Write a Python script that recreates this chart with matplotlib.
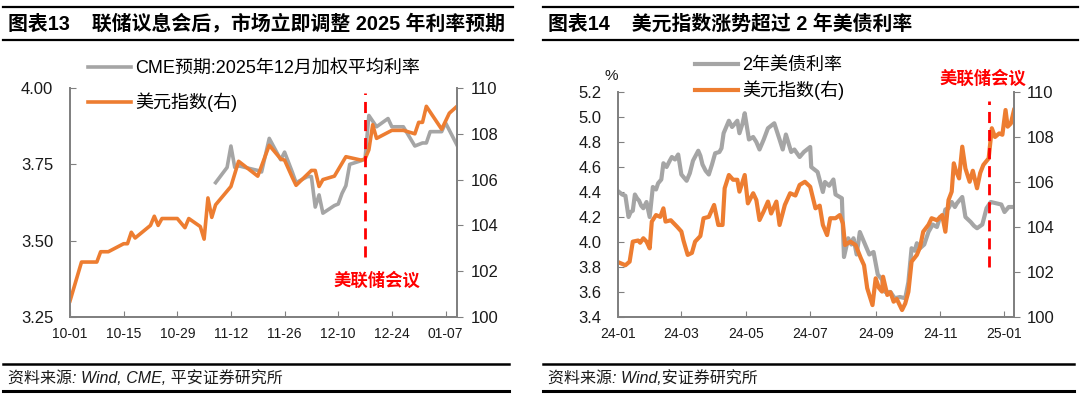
import matplotlib
matplotlib.use("Agg")
import matplotlib.pyplot as plt
import matplotlib.dates as mdates
from matplotlib.lines import Line2D
import pandas as pd

plt.rcParams['font.family'] = ['Liberation Sans', 'Noto Sans CJK SC']
plt.rcParams['axes.unicode_minus'] = False

# ---------- 图表13 数据 ----------
dxy13_dates = [
    "2024-10-01", "2024-10-04", "2024-10-08", "2024-10-09", "2024-10-11", "2024-10-15",
    "2024-10-16", "2024-10-17", "2024-10-18", "2024-10-22", "2024-10-23", "2024-10-24",
    "2024-10-25", "2024-10-29", "2024-10-31", "2024-11-01", "2024-11-04", "2024-11-05",
    "2024-11-06", "2024-11-07", "2024-11-08", "2024-11-11", "2024-11-12", "2024-11-14",
    "2024-11-19", "2024-11-22", "2024-11-25", "2024-11-26", "2024-11-28", "2024-11-29",
    "2024-12-03", "2024-12-04", "2024-12-05", "2024-12-06", "2024-12-09", "2024-12-12",
    "2024-12-16", "2024-12-17", "2024-12-18", "2024-12-19", "2024-12-20", "2024-12-24",
    "2024-12-27", "2024-12-30", "2024-12-31", "2025-01-01", "2025-01-02", "2025-01-06",
    "2025-01-08", "2025-01-10",
]
dxy13_vals = [
    100.7, 102.4, 102.4, 102.85, 102.85, 103.2,
    103.2, 103.7, 103.45, 104.0, 104.4, 104.0,
    104.3, 104.3, 103.9, 104.3, 103.95, 103.4,
    105.2, 104.35, 104.9, 105.5, 105.7, 106.8,
    106.15, 107.5, 106.9, 106.85, 106.1, 105.75,
    106.4, 106.4, 105.7, 106.0, 106.15, 107.0,
    106.85, 106.9, 107.3, 108.4, 107.8, 108.15,
    108.15, 108.0, 108.5, 108.5, 109.2, 108.2,
    108.9, 109.2,
]
cme_dates = [
    "2024-11-08", "2024-11-11", "2024-11-12", "2024-11-13", "2024-11-14", "2024-11-19",
    "2024-11-20", "2024-11-22", "2024-11-25", "2024-11-26", "2024-11-28", "2024-11-29",
    "2024-12-02", "2024-12-03", "2024-12-04", "2024-12-05", "2024-12-06", "2024-12-09",
    "2024-12-10", "2024-12-11", "2024-12-12", "2024-12-13", "2024-12-16", "2024-12-17",
    "2024-12-18", "2024-12-20", "2024-12-23", "2024-12-24", "2024-12-27", "2024-12-30",
    "2024-12-31", "2025-01-01", "2025-01-02", "2025-01-03", "2025-01-06", "2025-01-07",
    "2025-01-10",
]
cme_vals = [
    3.69, 3.74, 3.81, 3.74, 3.745, 3.73,
    3.725, 3.835, 3.765, 3.79, 3.725, 3.69,
    3.71, 3.71, 3.61, 3.65, 3.59, 3.615,
    3.62, 3.655, 3.68, 3.75, 3.762, 3.767,
    3.91, 3.873, 3.90, 3.873, 3.873, 3.81,
    3.815, 3.82, 3.82, 3.857, 3.857, 3.886,
    3.813,
]

# ---------- 图表14 数据 ----------
ust2y_dates = [
    "2024-01-02", "2024-01-05", "2024-01-08", "2024-01-11", "2024-01-13", "2024-01-15",
    "2024-01-17", "2024-01-19", "2024-01-21", "2024-01-23", "2024-01-25", "2024-01-28",
    "2024-01-31", "2024-02-03", "2024-02-06", "2024-02-08", "2024-02-11", "2024-02-13",
    "2024-02-16", "2024-02-19", "2024-02-21", "2024-02-24", "2024-02-27", "2024-03-01",
    "2024-03-06", "2024-03-09", "2024-03-12", "2024-03-17", "2024-03-19", "2024-03-21",
    "2024-03-24", "2024-03-27", "2024-03-30", "2024-04-02", "2024-04-06", "2024-04-08",
    "2024-04-10", "2024-04-15", "2024-04-18", "2024-04-23", "2024-04-25", "2024-04-28",
    "2024-04-30", "2024-05-04", "2024-05-08", "2024-05-11", "2024-05-14", "2024-05-18",
    "2024-05-22", "2024-05-28", "2024-06-02", "2024-06-05", "2024-06-08", "2024-06-13",
    "2024-06-16", "2024-06-21", "2024-06-25", "2024-07-01", "2024-07-02", "2024-07-08",
    "2024-07-13", "2024-07-15", "2024-07-19", "2024-07-23", "2024-07-25", "2024-07-31",
    "2024-08-02", "2024-08-06", "2024-08-09", "2024-08-11", "2024-08-14", "2024-08-17",
    "2024-08-21", "2024-08-26", "2024-08-30", "2024-09-03", "2024-09-07", "2024-09-10",
    "2024-09-15", "2024-09-19", "2024-09-24", "2024-09-29", "2024-10-02", "2024-10-05",
    "2024-10-08", "2024-10-10", "2024-10-13", "2024-10-17", "2024-10-21", "2024-10-25",
    "2024-10-29", "2024-11-01", "2024-11-04", "2024-11-06", "2024-11-09", "2024-11-12",
    "2024-11-15", "2024-11-17", "2024-11-22", "2024-11-25", "2024-11-30", "2024-12-03",
    "2024-12-06", "2024-12-11", "2024-12-15", "2024-12-19", "2024-12-24", "2024-12-29",
    "2025-01-01", "2025-01-05", "2025-01-09",
]
ust2y_vals = [
    4.40, 4.38, 4.37, 4.20, 4.24, 4.25,
    4.38, 4.35, 4.33, 4.29, 4.27, 4.32,
    4.20, 4.44, 4.42, 4.47, 4.50, 4.63,
    4.60, 4.65, 4.68, 4.66, 4.70, 4.54,
    4.49, 4.55, 4.65, 4.73, 4.69, 4.62,
    4.57, 4.54, 4.62, 4.71, 4.72, 4.75,
    4.87, 4.97, 4.92, 4.97, 4.87, 4.95,
    5.03, 4.82, 4.84, 4.80, 4.74, 4.82,
    4.91, 4.95, 4.82, 4.74, 4.86, 4.72,
    4.74, 4.68, 4.72, 4.76, 4.60, 4.56,
    4.40, 4.48, 4.45, 4.50, 4.38, 4.35,
    3.88, 4.03, 3.98, 4.03, 3.90, 4.08,
    4.00, 3.90, 3.92, 3.74, 3.70, 3.60,
    3.60, 3.55, 3.56, 3.55, 3.68, 3.95,
    3.93, 3.99, 3.95, 3.98, 4.08, 4.14,
    4.12, 4.20, 4.18, 4.26, 4.27, 4.32,
    4.28, 4.31, 4.36, 4.20, 4.16, 4.13,
    4.11, 4.14, 4.27, 4.32, 4.31, 4.30,
    4.24, 4.28, 4.28,
]
dxy14_dates = [
    "2024-01-03", "2024-01-08", "2024-01-12", "2024-01-15", "2024-01-20", "2024-01-22",
    "2024-01-25", "2024-01-28", "2024-01-31", "2024-02-02", "2024-02-06", "2024-02-10",
    "2024-02-13", "2024-02-15", "2024-02-20", "2024-02-26", "2024-03-01", "2024-03-03",
    "2024-03-07", "2024-03-11", "2024-03-14", "2024-03-19", "2024-03-22", "2024-03-27",
    "2024-04-01", "2024-04-05", "2024-04-09", "2024-04-11", "2024-04-15", "2024-04-19",
    "2024-04-23", "2024-04-25", "2024-04-30", "2024-05-03", "2024-05-08", "2024-05-11",
    "2024-05-14", "2024-05-18", "2024-05-22", "2024-05-25", "2024-05-30", "2024-06-02",
    "2024-06-07", "2024-06-12", "2024-06-17", "2024-06-21", "2024-06-26", "2024-07-01",
    "2024-07-06", "2024-07-10", "2024-07-13", "2024-07-17", "2024-07-20", "2024-07-25",
    "2024-07-29", "2024-08-01", "2024-08-03", "2024-08-08", "2024-08-13", "2024-08-18",
    "2024-08-21", "2024-08-24", "2024-08-29", "2024-09-01", "2024-09-04", "2024-09-07",
    "2024-09-08", "2024-09-12", "2024-09-15", "2024-09-18", "2024-09-21", "2024-09-26",
    "2024-09-29", "2024-10-02", "2024-10-05", "2024-10-10", "2024-10-13", "2024-10-16",
    "2024-10-21", "2024-10-24", "2024-10-29", "2024-11-03", "2024-11-06", "2024-11-09",
    "2024-11-12", "2024-11-14", "2024-11-16", "2024-11-19", "2024-11-22", "2024-11-25",
    "2024-11-29", "2024-12-02", "2024-12-06", "2024-12-09", "2024-12-12", "2024-12-17",
    "2024-12-20", "2024-12-23", "2024-12-27", "2024-12-30", "2025-01-02", "2025-01-04",
    "2025-01-07", "2025-01-10",
]
dxy14_vals = [
    102.4, 102.3, 102.46, 103.35, 103.4, 103.3,
    103.5, 103.35, 103.05, 104.24, 104.53, 104.45,
    104.83, 104.24, 104.3, 104.01, 103.8, 103.4,
    102.76, 102.85, 103.35, 103.6, 104.39, 104.45,
    104.98, 104.09, 104.09, 105.72, 106.31, 106.1,
    106.1, 105.57, 106.31, 105.05, 105.50, 105.2,
    104.31, 104.7, 105.13, 104.6, 105.13, 104.09,
    104.98, 105.50, 105.4, 105.87, 106.01, 105.79,
    104.83, 104.95, 104.09, 103.64, 104.39, 104.39,
    104.53, 104.16, 103.2, 103.35, 103.2, 102.61,
    102.3, 101.28, 100.53, 101.72, 101.3, 101.13,
    101.79, 100.98, 101.1, 100.68, 100.8, 100.31,
    100.6, 101.12, 102.46, 102.76, 103.1, 103.79,
    104.1, 104.39, 104.3, 104.53, 103.79, 105.2,
    105.57, 106.83, 106.5, 106.16, 107.57, 106.6,
    106.01, 106.5, 105.72, 106.4, 106.76, 107.05,
    108.39, 108.0, 108.16, 108.1, 109.2, 108.46,
    108.6, 109.2,
]

fomc_date = "2024-12-17"

GRAY = '#A5A5A5'
ORANGE = '#ED7D31'
SPINE = '#808080'
RED = '#FF0000'
TXT = '#1a1a1a'
W, H = 1080, 398


def fx(px):
    return px / W


def fy(py):
    return 1 - py / H


def hline(fig, x0, x1, y, lw):
    fig.add_artist(Line2D([fx(x0), fx(x1)], [fy(y), fy(y)], lw=lw, color='black',
                          transform=fig.transFigure))


def style(ax, ax2, lpad, rpad):
    for a in (ax, ax2):
        a.spines['top'].set_visible(False)
        for s in ('left', 'right', 'bottom'):
            a.spines[s].set_color(SPINE)
            a.spines[s].set_linewidth(1.3)
    ax.tick_params(axis='y', direction='in', length=4, color=SPINE, labelsize=12,
                   pad=lpad, labelcolor=TXT)
    ax.tick_params(axis='x', direction='in', length=4, color=SPINE, labelsize=10,
                   pad=7, labelcolor=TXT)
    ax2.tick_params(axis='y', direction='out', length=4, color=SPINE, labelsize=12,
                    pad=rpad, labelcolor=TXT)


fig = plt.figure(figsize=(W / 100, H / 100), dpi=100)

# ---------- 图表13 ----------
ax = fig.add_axes([fx(70), fy(317), fx(457) - fx(70), fy(88) - fy(317)])
ax2 = ax.twinx()
ax.set_zorder(ax2.get_zorder() - 1)
ax.patch.set_visible(False)
l1, = ax.plot(pd.to_datetime(cme_dates), cme_vals, color=GRAY, lw=2.6,
              label='CME预期:2025年12月加权平均利率')
l2, = ax2.plot(pd.to_datetime(dxy13_dates), dxy13_vals, color=ORANGE, lw=2.6,
               label='美元指数(右)')
ax.set_ylim(3.25, 4.00)
ax.set_yticks([3.25, 3.50, 3.75, 4.00])
ax.yaxis.set_major_formatter(matplotlib.ticker.FormatStrFormatter('%.2f'))
ax2.set_ylim(100, 110)
ax2.set_yticks(range(100, 111, 2))
ax.set_xlim(pd.Timestamp("2024-10-01"), pd.Timestamp("2025-01-10"))
ax.set_xticks(pd.date_range("2024-10-01", "2025-01-07", freq="14D"))
ax.xaxis.set_major_formatter(mdates.DateFormatter('%m-%d'))
style(ax, ax2, 12, 6)
ax2.vlines(pd.Timestamp(fomc_date), 102.6, 109.8, colors=RED, lw=2,
           linestyles=(0, (4, 2.5)))
ax2.text(pd.Timestamp("2024-12-20"), 101.6, '美联储会议', color=RED, fontsize=12.5,
         fontweight='bold', ha='center', va='center', family='Noto Sans CJK SC')
fig.legend(handles=[l1, l2], loc='upper left', bbox_to_anchor=(fx(88), fy(60)),
           frameon=False, fontsize=13, borderpad=0, borderaxespad=0,
           handlelength=2.4, handletextpad=0.2, labelspacing=0.85)

# ---------- 图表14 ----------
bx = fig.add_axes([fx(618), fy(317), fx(1014) - fx(618), fy(92) - fy(317)])
bx2 = bx.twinx()
bx.set_zorder(bx2.get_zorder() - 1)
bx.patch.set_visible(False)
m1, = bx.plot(pd.to_datetime(ust2y_dates), ust2y_vals, color=GRAY, lw=3.0,
              label='2年美债利率')
m2, = bx2.plot(pd.to_datetime(dxy14_dates), dxy14_vals, color=ORANGE, lw=3.0,
               label='美元指数(右)')
bx.set_ylim(3.4, 5.2)
bx.set_yticks([3.4 + 0.2 * i for i in range(10)])
bx.yaxis.set_major_formatter(matplotlib.ticker.FormatStrFormatter('%.1f'))
bx2.set_ylim(100, 110)
bx2.set_yticks(range(100, 111, 2))
bx.set_xlim(pd.Timestamp("2024-01-01"), pd.Timestamp("2025-01-10"))
bx.set_xticks(pd.date_range("2024-01-01", "2025-01-01", freq="2MS"))
bx.xaxis.set_major_formatter(mdates.DateFormatter('%y-%m'))
style(bx, bx2, 12, 5)
bx.text(-0.018, 1.07, '%', transform=bx.transAxes, fontsize=11, ha='center',
        va='center', color=TXT)
bx2.vlines(pd.Timestamp(fomc_date), 102.2, 109.6, colors=RED, lw=2,
           linestyles=(0, (4, 2.5)))
bx2.text(pd.Timestamp("2024-12-12"), 110.6, '美联储会议', color=RED, fontsize=12.5,
         fontweight='bold', ha='center', va='center', family='Noto Sans CJK SC',
         clip_on=False)
fig.legend(handles=[m1, m2], loc='upper left', bbox_to_anchor=(fx(695), fy(57)),
           frameon=False, fontsize=13, borderpad=0, borderaxespad=0,
           handlelength=2.4, handletextpad=0.2, labelspacing=0.35)

# ---------- 标题与来源 ----------
for x0, x1, title, src, tx in [
    (3, 513, '图表13    联储议息会后，市场立即调整 2025 年利率预期',
     '资料来源: Wind, CME, 平安证券研究所', 8),
    (543, 1078, '图表14    美元指数涨势超过 2 年美债利率',
     '资料来源: Wind,安证券研究所', 548),
]:
    hline(fig, x0, x1, 7, 1.6)
    hline(fig, x0, x1, 40, 1.6)
    fig.text(fx(tx), fy(24), title, fontsize=14.3, fontweight='bold', ha='left',
             va='center', color='black')
    hline(fig, x0, x1 - 4, 364, 1.8)
    hline(fig, x0, x1 - 4, 391, 2.2)
    fig.text(fx(tx), fy(378), src, fontsize=11.5, style='italic', ha='left',
             va='center', color=TXT)

fig.savefig("out.png", dpi=100)
